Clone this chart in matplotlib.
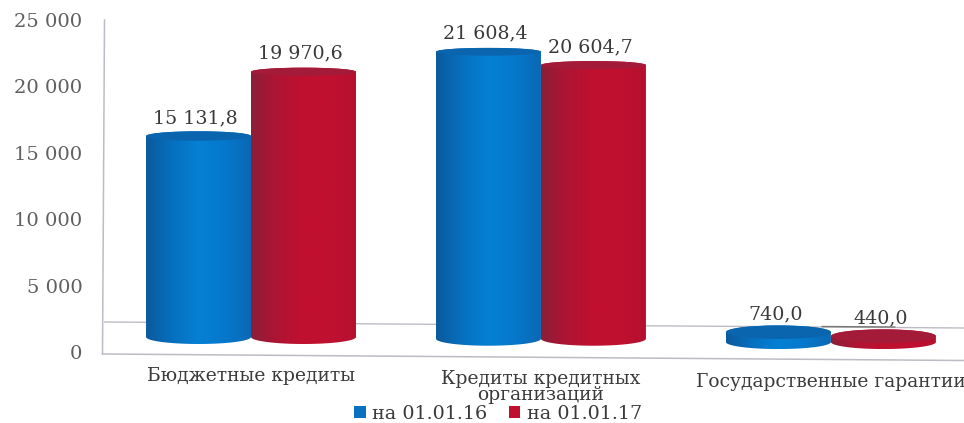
from matplotlib import pyplot as plt
from matplotlib.colors import LinearSegmentedColormap
from matplotlib.lines import Line2D
from matplotlib.patches import Ellipse, Patch, PathPatch
from matplotlib.path import Path
import numpy as np

categories = ["Бюджетные кредиты", "Кредиты кредитных\nорганизаций", "Государственные гарантии"]
values_2016 = [15131.8, 21608.4, 740.0]
values_2017 = [19970.6, 20604.7, 440.0]
series_names = ["на 01.01.16", "на 01.01.17"]
y_ticks = [0, 5000, 10000, 15000, 20000, 25000]
y_tick_labels = ["0", "5 000", "10 000", "15 000", "20 000", "25 000"]

W, H = 964, 423
plt.rcParams["font.family"] = "DejaVu Serif"

fig = plt.figure(figsize=(W / 100, H / 100), dpi=100)
ax = fig.add_axes([104 / W, 1 - 352 / H, 860 / W, 332 / H])
ax.set_xlim(-0.507, 2.459)
ax.set_ylim(0, 25000)
for s in ax.spines.values():
    s.set_visible(False)

# 1 px in y in data units
py = 25000 / 332
bar_w = 105 / 290
base_by_group = [1130, 1000, 750]

blue_cmap = LinearSegmentedColormap.from_list("b", ["#0b5a9c", "#0670bf", "#0580d4", "#0678cc", "#0a68b4"])
red_cmap = LinearSegmentedColormap.from_list("r", ["#8a1f38", "#b01433", "#c0102f", "#c0102f", "#b61130"])
blue_top = "#0a65ae"
red_top = "#a31b38"
wall = "#bcbcc4"


def px_line(x0, y0, x1, y1, color=wall, lw=1.1, z=1):
    fig.add_artist(Line2D([x0 / W, x1 / W], [1 - y0 / H, 1 - y1 / H], color=color, lw=lw, zorder=z))


# walls of the 3d box
px_line(104.5, 20, 102.5, 354)
px_line(102.5, 354, 964, 360.5)
ax.plot([-0.507, 2.459], [(352 - 322) * py, (352 - 328) * py], color=wall, lw=1.0, zorder=1)
ax.plot([1.97, 2.22], [(352 - 326.5) * py, (352 - 327) * py], color="#777777", lw=1.0, zorder=1)


def cylinder(x, base, top, cmap, top_color, z):
    t = np.linspace(0, np.pi, 60)
    hw = bar_w / 2
    hb = 7 * py
    ht = (7 - 3 * top / 22000) * py
    xs = np.concatenate([x - hw * np.cos(t), x + hw * np.cos(t)])
    ys = np.concatenate([base - hb * np.sin(t), top + ht * np.sin(t)])
    side = PathPatch(Path(np.column_stack([xs, ys])), fc="none", ec="none", transform=ax.transData)
    ax.add_patch(side)
    im = ax.imshow(np.linspace(0, 1, 256).reshape(1, -1), cmap=cmap, aspect="auto",
                   extent=[x - hw, x + hw, base - hb, top + ht], zorder=z)
    im.set_clip_path(side)
    ax.add_patch(Ellipse((x, top), bar_w, 2 * ht, fc=top_color, ec="none", zorder=z + 0.1))


labels = []
for i in range(len(categories)):
    base = base_by_group[i]
    v1, v2 = values_2016[i], values_2017[i]
    cylinder(i - bar_w / 2, base, base + v1, blue_cmap, blue_top, 3)
    cylinder(i + bar_w / 2, base, base + v2, red_cmap, red_top, 4)
    labels.append((i - bar_w / 2, base + v1, v1))
    labels.append((i + bar_w / 2, base + v2, v2))

ax.set_xlim(-0.507, 2.459)
ax.set_ylim(0, 25000)

for x, y, v in labels:
    txt = f"{v:,.1f}".replace(",", " ").replace(".", ",")
    ax.annotate(txt, (x, y), xytext=(-2, 13), textcoords="offset points", ha="center", va="center",
                fontsize=13.7, color="#3a3a3a", zorder=6)

ax.set_yticks(y_ticks)
ax.set_yticklabels(y_tick_labels, fontsize=14, color="#606060")
ax.tick_params(axis="y", length=0, pad=15.5)

ax.set_xticks(range(len(categories)))
ax.set_xticklabels(categories, fontsize=13.5, color="#3a3a3a", linespacing=0.85)
ax.tick_params(axis="x", length=0)
for tick, pad in zip(ax.xaxis.get_major_ticks(), [11, 13, 15]):
    tick.set_pad(pad)

handles = [Patch(fc="#0a70c0", ec="none"), Patch(fc="#c0102f", ec="none")]
fig.legend(handles, series_names, loc="center", bbox_to_anchor=(498 / W, 1 - 414 / H), ncol=2, frameon=False,
           fontsize=13.8, labelcolor="#3a3a3a", handlelength=0.6, handleheight=0.6, handletextpad=0.35,
           columnspacing=1.1, borderpad=0)

plt.savefig("out.png", dpi=100)
